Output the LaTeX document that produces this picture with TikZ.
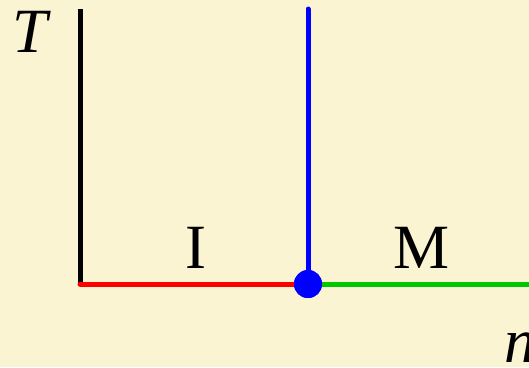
\documentclass[tikz,border=0pt]{standalone}
\usepackage{fontspec}
\setmainfont{Liberation Serif}
\usepackage{xcolor}
\definecolor{paper}{HTML}{FAF4D2}
\definecolor{phasegreen}{RGB}{0,200,0}
\begin{document}
\begin{tikzpicture}[
    x=1pt, y=-1pt,
    axis/.style={line width=5pt, black},
    phase/.style={line width=5pt, line cap=round},
    junction/.style={circle, fill=blue, inner sep=0pt, minimum size=28pt},
    label/.style={font=\fontsize{63}{63}\selectfont, inner sep=0pt, anchor=base}
]
    % Background
    \fill[paper] (0,0) rectangle (529,367);
    \useasboundingbox (0,0) rectangle (529,367);

    % Points
    \coordinate (origin) at (80,284);
    \coordinate (ttop) at (80,9);
    \coordinate (btop) at (308,9);
    \coordinate (nend) at (535,284);
    \node[junction] (dot) at (308,284) {};

    % Lines
    \draw[axis] (origin) -- (ttop);
    \draw[phase, red] (origin) -- (dot.center);
    \draw[phase, phasegreen] (dot.center) -- (nend);
    \draw[phase, blue] (dot.center) -- (btop);
    \node[junction] at (dot) {};

    % Labels
    \node[label] (tlab) at (32,52) {\textit{T}};
    \node[label] (ilab) at (196,268) {I};
    \node[label] (mlab) at (422,268) {M};
    \node[label, anchor=base west] (nlab) at (504,362) {\textit{n}};
\end{tikzpicture}
\end{document}
